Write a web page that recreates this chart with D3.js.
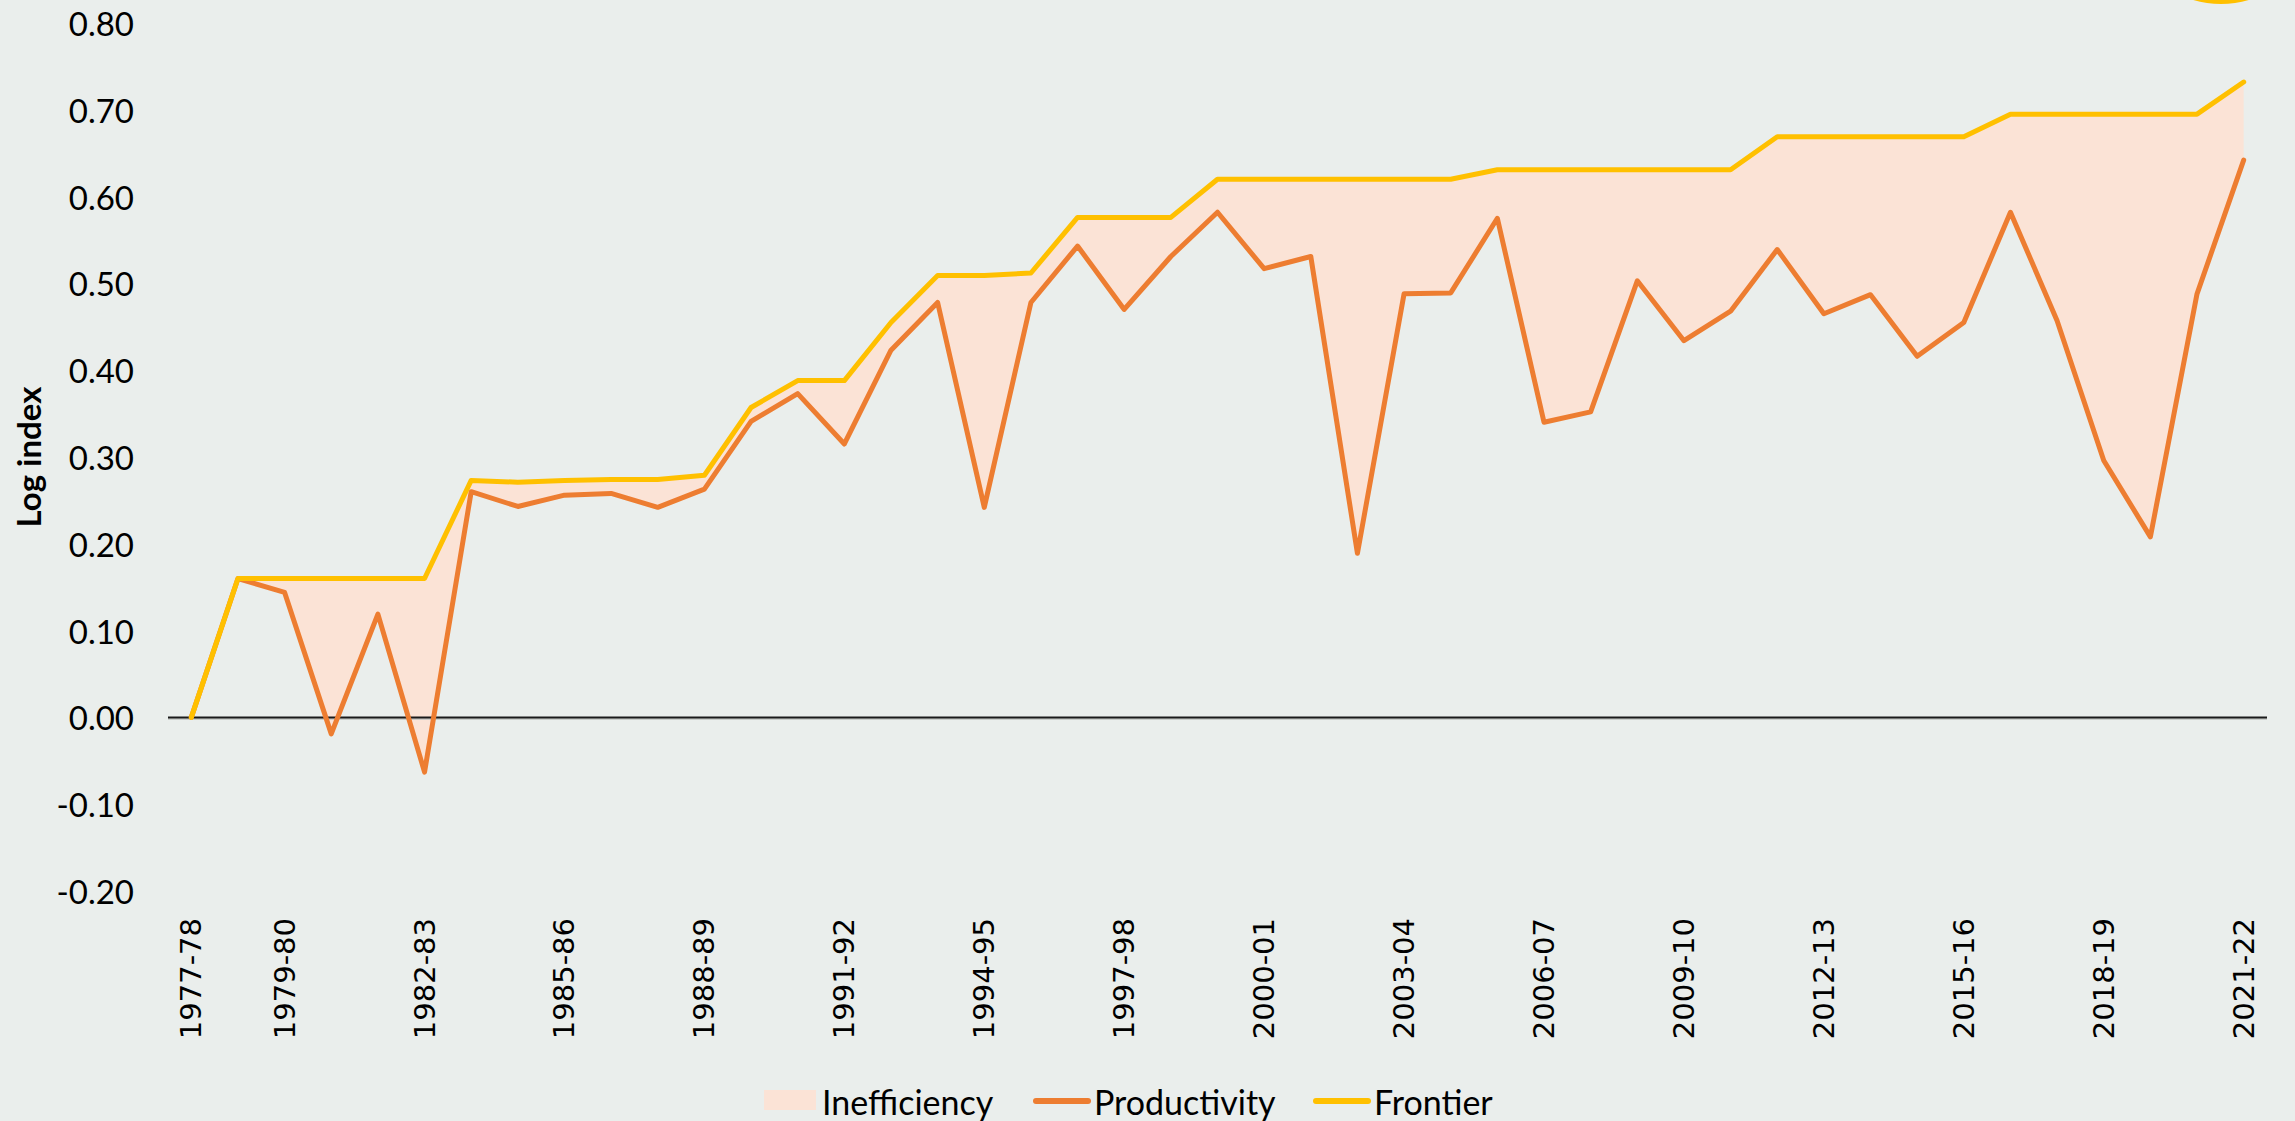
<!DOCTYPE html>
<html>
<head>
<meta charset="UTF-8">
<title>Productivity and frontier</title>
<script src="https://d3js.org/d3.v7.min.js"></script>
<style>
  body {margin: 0; background: #eaeeec;}
  svg {display: block;}
  .ytick {font-family: Lato, "Open Sans", sans-serif; font-size: 33px; fill: #000;}
  .xtick {font-family: "DejaVu Sans", sans-serif; font-size: 29px; fill: #000;}
  .legend text {font-family: Lato, "Open Sans", sans-serif; font-size: 34px; fill: #000;}
</style>
</head>
<body>
<div id="chart"></div>
<script>
var years = ["1977-78","1978-79","1979-80","1980-81","1981-82","1982-83","1983-84","1984-85","1985-86",
             "1986-87","1987-88","1988-89","1989-90","1990-91","1991-92","1992-93","1993-94","1994-95",
             "1995-96","1996-97","1997-98","1998-99","1999-00","2000-01","2001-02","2002-03","2003-04",
             "2004-05","2005-06","2006-07","2007-08","2008-09","2009-10","2010-11","2011-12","2012-13",
             "2013-14","2014-15","2015-16","2016-17","2017-18","2018-19","2019-20","2020-21","2021-22"];

var productivity = [0.000, 0.160, 0.144, -0.019, 0.119, -0.063, 0.260, 0.243, 0.256,
                    0.258, 0.242, 0.263, 0.341, 0.373, 0.315, 0.423, 0.478, 0.242,
                    0.478, 0.543, 0.470, 0.531, 0.582, 0.517, 0.531, 0.189, 0.488,
                    0.489, 0.575, 0.340, 0.352, 0.503, 0.434, 0.468, 0.539, 0.465,
                    0.487, 0.416, 0.455, 0.582, 0.457, 0.296, 0.208, 0.488, 0.642];

var frontier = [0.000, 0.160, 0.160, 0.160, 0.160, 0.160, 0.273, 0.271, 0.273,
                0.274, 0.274, 0.279, 0.357, 0.388, 0.388, 0.455, 0.509, 0.509,
                0.512, 0.576, 0.576, 0.576, 0.620, 0.620, 0.620, 0.620, 0.620,
                0.620, 0.631, 0.631, 0.631, 0.631, 0.631, 0.631, 0.669, 0.669,
                0.669, 0.669, 0.669, 0.695, 0.695, 0.695, 0.695, 0.695, 0.732];

var xTickLabels = ["1977-78","1979-80","1982-83","1985-86","1988-89","1991-92","1994-95","1997-98",
                   "2000-01","2003-04","2006-07","2009-10","2012-13","2015-16","2018-19","2021-22"];

var yTicks = [-0.2, -0.1, 0, 0.1, 0.2, 0.3, 0.4, 0.5, 0.6, 0.7, 0.8];

var legendItems = ["Inefficiency", "Productivity", "Frontier"];

var width = 2295, height = 1121;
var colors = {fill: "#fbe3d6", prod: "#ed7d31", front: "#ffc000"};

var data = years.map(function(y, i) {
  return {year: y, p: productivity[i], f: frontier[i]};
});

var x = d3.scalePoint()
    .domain(years)
    .range([168, 2267])
    .padding(0.5);

var y = d3.scaleLinear()
    .domain([-0.2, 0.8])
    .range([891, 23]);

var svg = d3.select("#chart").append("svg")
    .attr("width", width)
    .attr("height", height);

svg.append("rect")
    .attr("width", width)
    .attr("height", height)
    .attr("fill", "#eaeeec");

// logo ring cut off at top right
svg.append("circle")
    .attr("cx", 2221).attr("cy", -94)
    .attr("r", 94)
    .attr("fill", "none")
    .attr("stroke", colors.front)
    .attr("stroke-width", 8);

// inefficiency band
var area = d3.area()
    .x(function(d) { return x(d.year); })
    .y0(function(d) { return y(d.p); })
    .y1(function(d) { return y(d.f); });

svg.append("path")
    .datum(data)
    .attr("d", area)
    .attr("fill", colors.fill);

// zero line
svg.append("line")
    .attr("x1", x.range()[0]).attr("x2", x.range()[1])
    .attr("y1", y(0) + 1.5).attr("y2", y(0) + 1.5)
    .attr("stroke", "#bfc3c1")
    .attr("stroke-width", 1.5);
svg.append("line")
    .attr("x1", x.range()[0]).attr("x2", x.range()[1])
    .attr("y1", y(0)).attr("y2", y(0))
    .attr("stroke", "#1a1a1a")
    .attr("stroke-width", 2);

var lineP = d3.line()
    .x(function(d) { return x(d.year); })
    .y(function(d) { return y(d.p); });
var lineF = d3.line()
    .x(function(d) { return x(d.year); })
    .y(function(d) { return y(d.f); });

svg.append("path")
    .datum(data)
    .attr("d", lineP)
    .attr("fill", "none")
    .attr("stroke", colors.prod)
    .attr("stroke-width", 5)
    .attr("stroke-linejoin", "round")
    .attr("stroke-linecap", "round");

svg.append("path")
    .datum(data)
    .attr("d", lineF)
    .attr("fill", "none")
    .attr("stroke", colors.front)
    .attr("stroke-width", 5)
    .attr("stroke-linejoin", "round")
    .attr("stroke-linecap", "round");

// y tick labels
svg.selectAll(".ytick")
    .data(yTicks)
    .enter().append("text")
    .attr("class", "ytick")
    .attr("x", 134)
    .attr("y", function(d) { return y(d); })
    .attr("text-anchor", "end")
    .attr("dominant-baseline", "central")
    .text(function(d) { return d3.format(".2f")(d).replace("−", "-"); });

svg.append("text")
    .attr("transform", "translate(41,457) rotate(-90)")
    .attr("text-anchor", "middle")
    .style("font-family", "Lato, 'Open Sans', sans-serif")
    .style("font-weight", "bold")
    .style("font-size", "33px")
    .text("Log index");

// x tick labels
svg.selectAll(".xtick")
    .data(xTickLabels)
    .enter().append("text")
    .attr("class", "xtick")
    .attr("transform", function(d) { return "translate(" + x(d) + ",918) rotate(-90)"; })
    .attr("text-anchor", "end")
    .attr("dominant-baseline", "central")
    .text(function(d) { return d; });

// legend
var legend = svg.append("g").attr("class", "legend");
var lx = [764, 1033, 1313];

legend.append("rect")
    .attr("x", lx[0]).attr("y", 1090)
    .attr("width", 52).attr("height", 20)
    .attr("fill", colors.fill);

[colors.prod, colors.front].forEach(function(c, i) {
  legend.append("line")
      .attr("x1", lx[i + 1] + 3).attr("x2", lx[i + 1] + 55)
      .attr("y1", 1101).attr("y2", 1101)
      .attr("stroke", c)
      .attr("stroke-width", 6)
      .attr("stroke-linecap", "round");
});

legend.selectAll("text")
    .data(legendItems)
    .enter().append("text")
    .attr("x", function(d, i) { return lx[i] + (i == 0 ? 58 : 61); })
    .attr("y", 1101)
    .attr("dominant-baseline", "central")
    .text(function(d) { return d; });
</script>
</body>
</html>
